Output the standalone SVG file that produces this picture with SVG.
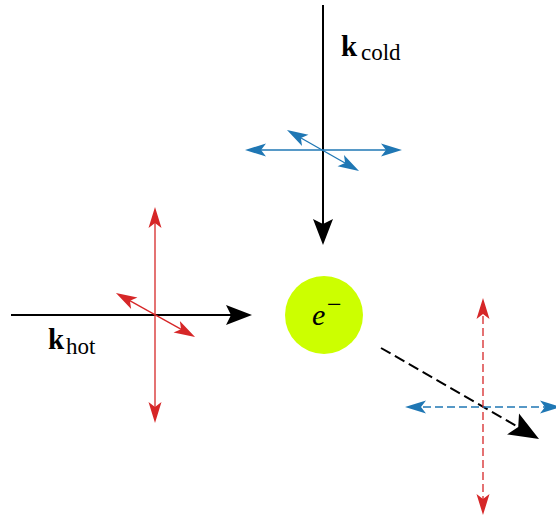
<svg xmlns="http://www.w3.org/2000/svg" width="556" height="518" viewBox="0 0 556 518">
<style>
.k{stroke:#000;stroke-width:2;fill:none}
.kd{stroke:#000;stroke-width:2;fill:none;stroke-dasharray:11 5}
.b{stroke:#1f77b4;stroke-width:1.3;fill:none}
.bd{stroke:#1f77b4;stroke-width:1.3;fill:none;stroke-dasharray:8 4}
.r{stroke:#d62728;stroke-width:1.3;fill:none}
.rd{stroke:#d62728;stroke-width:1.3;fill:none;stroke-dasharray:8 4}
.lbl{font-family:"Liberation Serif","DejaVu Serif",serif;fill:#000}
.kb{font-size:29px;font-weight:bold}
.sub{font-size:23px}
</style>
<defs>
<marker id="ak" markerUnits="userSpaceOnUse" viewBox="-19 -11 28 22" refX="0" refY="0" markerWidth="28" markerHeight="22" orient="auto-start-reverse"><path d="M8,0 L-18,-10 L-13,0 L-18,10 Z" fill="#000"/></marker>
<marker id="akl" markerUnits="userSpaceOnUse" viewBox="-23 -13 32 26" refX="0" refY="0" markerWidth="32" markerHeight="26" orient="auto-start-reverse"><path d="M8,0 L-22,-12 L-16,0 L-22,12 Z" fill="#000"/></marker>
<marker id="ab" markerUnits="userSpaceOnUse" viewBox="-16 -7 23 14" refX="0" refY="0" markerWidth="23" markerHeight="14" orient="auto-start-reverse"><path d="M6,0 L-15,-6.5 L-10,0 L-15,6.5 Z" fill="#1f77b4"/></marker>
<marker id="ar" markerUnits="userSpaceOnUse" viewBox="-16 -7 23 14" refX="0" refY="0" markerWidth="23" markerHeight="14" orient="auto-start-reverse"><path d="M6,0 L-15,-6.5 L-10,0 L-15,6.5 Z" fill="#d62728"/></marker>
</defs>
<g id="connectors">
<line id="k-cold" class="k" x1="323" y1="5" x2="323" y2="237" marker-end="url(#ak)"/>
<line class="b" x1="251" y1="150" x2="396" y2="150" marker-start="url(#ab)" marker-end="url(#ab)"/>
<line class="b" x1="292.2" y1="133" x2="353.8" y2="168" marker-start="url(#ab)" marker-end="url(#ab)"/>
<line id="k-hot" class="k" x1="11" y1="315" x2="244" y2="315" marker-end="url(#ak)"/>
<line class="r" x1="155" y1="213" x2="155" y2="417" marker-start="url(#ar)" marker-end="url(#ar)"/>
<line class="r" x1="121.2" y1="295.9" x2="189.8" y2="334.1" marker-start="url(#ar)" marker-end="url(#ar)"/>
<line id="k-out" class="kd" x1="381" y1="348" x2="532.1" y2="435" marker-end="url(#akl)"/>
<line class="rd" x1="483" y1="304" x2="483" y2="509" marker-start="url(#ar)" marker-end="url(#ar)"/>
<line class="bd" x1="411" y1="407" x2="555" y2="407" marker-start="url(#ab)" marker-end="url(#ab)"/>
</g>
<g id="electron">
<circle cx="324" cy="315" r="39" fill="#ccff00"/>
<text class="lbl" x="312" y="325" font-size="30" font-style="italic">e</text>
<text class="lbl" x="327" y="313" font-size="26">−</text>
</g>
<g id="label-cold">
<text class="lbl kb" x="341" y="56">k</text>
<text class="lbl sub" x="361" y="60">cold</text>
</g>
<g id="label-hot">
<text class="lbl kb" x="48" y="349">k</text>
<text class="lbl sub" x="66" y="354">hot</text>
</g>
</svg>
